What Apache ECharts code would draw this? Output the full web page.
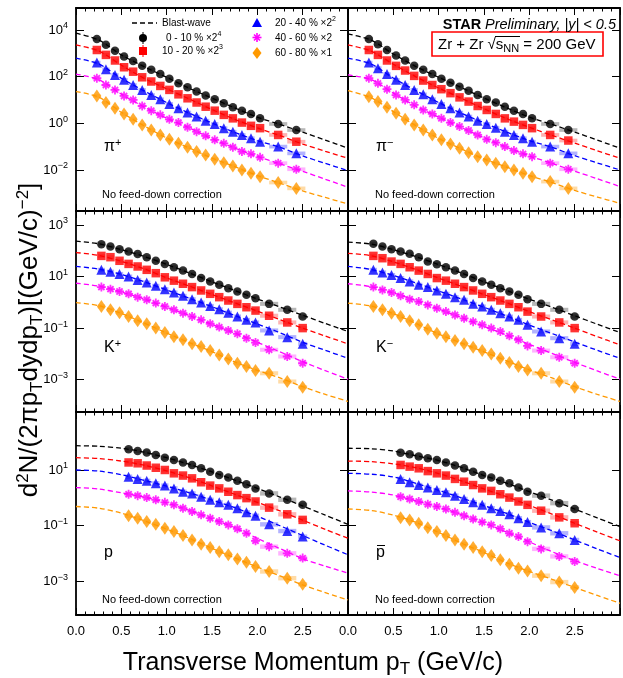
<!DOCTYPE html>
<html><head><meta charset="utf-8">
<script src="https://cdn.jsdelivr.net/npm/echarts@6/dist/echarts.min.js"></script>
<style>html,body{margin:0;padding:0;background:#fff}#c{width:623px;height:678px}</style>
</head><body><div id="c"></div>
<script>
// ---------- DATA (yields stored as log10 values) ----------
const ptPion   = [0.23,0.33,0.43,0.53,0.63,0.73,0.83,0.93,1.03,1.13,1.23,1.33,1.43,1.53,1.63,1.73,1.83,1.93,2.03,2.23,2.43];
const ptKaon   = [0.28,0.38,0.48,0.58,0.68,0.78,0.88,0.98,1.08,1.18,1.28,1.38,1.48,1.58,1.68,1.78,1.88,1.98,2.13,2.33,2.5];
const ptProton = [0.58,0.68,0.78,0.88,0.98,1.08,1.18,1.28,1.38,1.48,1.58,1.68,1.78,1.88,1.98,2.13,2.33,2.5];
const halfBinPion   = [0.04,0.04,0.04,0.04,0.04,0.04,0.04,0.04,0.04,0.04,0.04,0.04,0.04,0.04,0.04,0.04,0.04,0.04,0.04,0.1,0.1];
const halfBinKaon   = [0.04,0.04,0.04,0.04,0.04,0.04,0.04,0.04,0.04,0.04,0.04,0.04,0.04,0.04,0.04,0.04,0.04,0.04,0.1,0.1,0.05];
const halfBinProton = [0.04,0.04,0.04,0.04,0.04,0.04,0.04,0.04,0.04,0.04,0.04,0.04,0.04,0.04,0.04,0.1,0.1,0.05];
const curvePt = [0,0.25,0.5,0.75,1,1.25,1.5,1.75,2,2.25,2.5,2.75,3];

const centralities = ['0 - 10 %', '10 - 20 %', '20 - 40 %', '40 - 60 %', '60 - 80 %'];
const scaleExp = ['4','3','2','', ''];

// pi+
const pip_c0 = [3.61,3.36,3.11,2.86,2.67,2.46,2.29,2.11,1.91,1.71,1.54,1.36,1.19,1.03,0.86,0.69,0.54,0.40,0.21,-0.03,-0.29];
const pip_c1 = [3.14,2.93,2.69,2.40,2.21,1.97,1.79,1.60,1.43,1.24,1.07,0.89,0.71,0.54,0.36,0.21,0.03,-0.11,-0.21,-0.50,-0.79];
const pip_c2 = [2.60,2.31,2.07,1.86,1.64,1.43,1.21,1.03,0.83,0.64,0.46,0.29,0.11,-0.03,-0.21,-0.36,-0.50,-0.64,-0.79,-1.0,-1.29];
const pip_c3 = [1.93,1.64,1.43,1.17,1.00,0.74,0.54,0.36,0.17,0.03,-0.17,-0.36,-0.54,-0.71,-0.86,-1.03,-1.21,-1.31,-1.46,-1.71,-1.97];
const pip_c4 = [1.17,0.89,0.64,0.40,0.17,-0.07,-0.29,-0.50,-0.69,-0.86,-1.03,-1.21,-1.36,-1.54,-1.69,-1.83,-2.0,-2.14,-2.29,-2.54,-2.79];
// pi-
const pim_c0 = [3.61,3.39,3.14,2.90,2.69,2.46,2.29,2.11,1.91,1.74,1.57,1.39,1.21,1.03,0.89,0.71,0.54,0.40,0.21,-0.03,-0.29];
const pim_c1 = [3.14,2.93,2.69,2.46,2.26,2.03,1.83,1.64,1.46,1.29,1.11,0.93,0.74,0.57,0.40,0.21,0.07,-0.07,-0.21,-0.50,-0.74];
const pim_c2 = [2.60,2.36,2.11,1.86,1.64,1.43,1.24,1.03,0.83,0.64,0.46,0.29,0.11,-0.03,-0.19,-0.36,-0.50,-0.64,-0.79,-1.0,-1.29];
const pim_c3 = [1.93,1.71,1.46,1.21,1.0,0.79,0.57,0.40,0.21,0.03,-0.14,-0.31,-0.50,-0.69,-0.83,-1.0,-1.17,-1.31,-1.43,-1.71,-1.97];
const pim_c4 = [1.14,0.93,0.69,0.43,0.17,-0.07,-0.29,-0.50,-0.71,-0.89,-1.07,-1.26,-1.43,-1.57,-1.71,-1.86,-2.0,-2.14,-2.29,-2.50,-2.79];
// K+
const kp_c0 = [2.25,2.16,2.06,1.97,1.87,1.75,1.61,1.49,1.36,1.23,1.10,0.94,0.81,0.68,0.55,0.42,0.29,0.16,-0.06,-0.29,-0.55];
const kp_c1 = [1.80,1.75,1.61,1.49,1.39,1.26,1.13,0.97,0.84,0.72,0.59,0.46,0.33,0.20,0.07,-0.06,-0.19,-0.32,-0.52,-0.78,-1.0];
const kp_c2 = [1.26,1.19,1.10,1.0,0.87,0.77,0.64,0.51,0.38,0.25,0.12,-0.01,-0.14,-0.27,-0.40,-0.55,-0.68,-0.78,-1.09,-1.35,-1.61];
const kp_c3 = [0.59,0.51,0.42,0.33,0.20,0.10,-0.03,-0.16,-0.29,-0.42,-0.55,-0.68,-0.83,-0.96,-1.09,-1.22,-1.39,-1.56,-1.84,-2.10,-2.36];
const kp_c4 = [-0.16,-0.29,-0.40,-0.55,-0.71,-0.83,-1.0,-1.17,-1.33,-1.45,-1.61,-1.71,-1.87,-2.04,-2.20,-2.36,-2.49,-2.64,-2.75,-3.07,-3.29];
// K-
const km_c0 = [2.27,2.16,2.06,1.97,1.88,1.75,1.58,1.48,1.36,1.23,1.10,0.94,0.81,0.68,0.55,0.42,0.29,0.12,-0.06,-0.29,-0.55];
const km_c1 = [1.80,1.71,1.58,1.49,1.36,1.23,1.10,0.94,0.84,0.72,0.59,0.46,0.33,0.20,0.07,-0.06,-0.19,-0.36,-0.55,-0.78,-1.0];
const km_c2 = [1.26,1.16,1.06,0.94,0.81,0.68,0.59,0.46,0.33,0.20,0.10,-0.06,-0.16,-0.29,-0.42,-0.55,-0.68,-0.87,-1.13,-1.39,-1.61];
const km_c3 = [0.59,0.48,0.38,0.25,0.12,0.03,-0.10,-0.23,-0.36,-0.49,-0.62,-0.75,-0.87,-1.0,-1.13,-1.30,-1.45,-1.69,-1.87,-2.13,-2.36];
const km_c4 = [-0.16,-0.29,-0.42,-0.55,-0.71,-0.87,-1.04,-1.20,-1.33,-1.48,-1.61,-1.74,-1.87,-2.0,-2.17,-2.33,-2.49,-2.62,-2.75,-3.07,-3.29];
// p
const pp_c0 = [1.74,1.68,1.63,1.54,1.44,1.36,1.27,1.18,1.06,0.94,0.82,0.73,0.61,0.49,0.34,0.16,-0.07,-0.25];
const pp_c1 = [1.27,1.24,1.16,1.08,1.0,0.88,0.80,0.70,0.56,0.44,0.34,0.22,0.10,-0.01,-0.13,-0.35,-0.59,-0.79];
const pp_c2 = [0.76,0.68,0.61,0.52,0.44,0.34,0.22,0.16,0.04,-0.07,-0.16,-0.25,-0.37,-0.52,-0.64,-0.95,-1.19,-1.39];
const pp_c3 = [0.13,0.08,0.01,-0.07,-0.16,-0.25,-0.37,-0.49,-0.61,-0.73,-0.85,-0.97,-1.11,-1.27,-1.54,-1.75,-1.99,-2.16];
const pp_c4 = [-0.64,-0.73,-0.85,-0.95,-1.09,-1.21,-1.35,-1.51,-1.66,-1.78,-1.93,-2.04,-2.19,-2.31,-2.46,-2.64,-2.88,-3.10];
// pbar
const pb_c0 = [1.62,1.56,1.48,1.42,1.36,1.27,1.16,1.06,0.94,0.82,0.73,0.61,0.52,0.37,0.22,0.08,-0.19,-0.40];
const pb_c1 = [1.18,1.12,1.06,0.96,0.88,0.80,0.68,0.58,0.46,0.34,0.25,0.13,0.01,-0.13,-0.25,-0.46,-0.70,-0.91];
const pb_c2 = [0.68,0.56,0.46,0.37,0.28,0.20,0.08,-0.04,-0.16,-0.25,-0.37,-0.47,-0.59,-0.73,-0.87,-1.06,-1.27,-1.51];
const pb_c3 = [0.04,-0.04,-0.13,-0.23,-0.31,-0.40,-0.52,-0.64,-0.76,-0.87,-0.97,-1.11,-1.27,-1.39,-1.57,-1.83,-2.10,-2.28];
const pb_c4 = [-0.71,-0.79,-0.91,-1.07,-1.21,-1.35,-1.51,-1.66,-1.78,-1.93,-2.07,-2.22,-2.38,-2.52,-2.62,-2.79,-3.02,-3.21];

// Blast-wave curves at curvePt (log10)
const pipBW_c0 = [3.86,3.57,2.93,2.43,1.97,1.50,1.08,0.66,0.26,-0.05,-0.38,-0.72,-1.07];
const pipBW_c1 = [3.36,3.10,2.49,1.93,1.48,1.04,0.59,0.17,-0.20,-0.53,-0.89,-1.20,-1.5];
const pipBW_c2 = [2.79,2.54,1.93,1.39,0.89,0.43,0.01,-0.39,-0.74,-1.03,-1.40,-1.72,-2.03];
const pipBW_c3 = [2.11,1.87,1.25,0.70,0.22,-0.20,-0.66,-1.06,-1.42,-1.74,-2.06,-2.40,-2.74];
const pipBW_c4 = [1.36,1.12,0.47,-0.11,-0.63,-1.06,-1.49,-1.86,-2.24,-2.57,-2.90,-3.18,-3.46];
const pimBW_c0 = [3.83,3.57,2.97,2.43,1.97,1.53,1.08,0.66,0.26,-0.05,-0.38,-0.72,-1.07];
const pimBW_c1 = [3.36,3.10,2.53,1.99,1.51,1.07,0.62,0.20,-0.17,-0.52,-0.85,-1.18,-1.50];
const pimBW_c2 = [2.79,2.55,1.94,1.40,0.89,0.43,0.02,-0.38,-0.74,-1.03,-1.39,-1.70,-2.00];
const pimBW_c3 = [2.07,1.88,1.29,0.73,0.26,-0.18,-0.62,-1.03,-1.40,-1.72,-2.05,-2.38,-2.71];
const pimBW_c4 = [1.40,1.10,0.50,-0.11,-0.65,-1.10,-1.53,-1.88,-2.24,-2.54,-2.88,-3.16,-3.43];
const kpBW_c0 = [2.37,2.27,2.04,1.78,1.47,1.14,0.79,0.46,0.13,-0.18,-0.50,-0.82,-1.13];
const kpBW_c1 = [1.93,1.82,1.59,1.30,0.95,0.63,0.30,-0.02,-0.34,-0.67,-1.0,-1.31,-1.61];
const kpBW_c2 = [1.39,1.29,1.08,0.80,0.48,0.16,-0.17,-0.51,-0.84,-1.18,-1.55,-1.86,-2.17];
const kpBW_c3 = [0.74,0.63,0.40,0.13,-0.19,-0.51,-0.86,-1.19,-1.55,-1.92,-2.30,-2.65,-2.98];
const kpBW_c4 = [-0.01,-0.13,-0.43,-0.80,-1.19,-1.56,-1.91,-2.31,-2.64,-2.93,-3.27,-3.57,-3.84];
const kmBW_c0 = [2.33,2.26,2.04,1.77,1.46,1.14,0.79,0.46,0.12,-0.19,-0.52,-0.85,-1.17];
const kmBW_c1 = [1.90,1.81,1.57,1.27,0.94,0.62,0.30,-0.02,-0.36,-0.68,-1.0,-1.33,-1.65];
const kmBW_c2 = [1.39,1.28,1.04,0.75,0.44,0.13,-0.19,-0.53,-0.88,-1.21,-1.54,-1.86,-2.17];
const kmBW_c3 = [0.72,0.61,0.36,0.07,-0.26,-0.59,-0.93,-1.27,-1.63,-1.98,-2.33,-2.66,-2.98];
const kmBW_c4 = [-0.03,-0.14,-0.44,-0.82,-1.23,-1.58,-1.92,-2.27,-2.62,-2.93,-3.27,-3.57,-3.84];
const ppBW_c0 = [1.87,1.85,1.78,1.64,1.44,1.20,0.93,0.64,0.34,0.03,-0.29,-0.62,-0.95];
const ppBW_c1 = [1.44,1.41,1.32,1.17,0.97,0.72,0.43,0.13,-0.16,-0.47,-0.80,-1.13,-1.45];
const ppBW_c2 = [1.0,0.96,0.83,0.63,0.42,0.18,-0.08,-0.35,-0.66,-1.0,-1.35,-1.70,-2.04];
const ppBW_c3 = [0.37,0.32,0.18,0.03,-0.18,-0.45,-0.75,-1.07,-1.45,-1.82,-2.18,-2.45,-2.70];
const ppBW_c4 = [-0.31,-0.37,-0.55,-0.82,-1.12,-1.45,-1.81,-2.15,-2.48,-2.80,-3.12,-3.40,-3.66];
const pbBW_c0 = [1.78,1.76,1.68,1.51,1.34,1.09,0.80,0.53,0.22,-0.08,-0.40,-0.72,-1.03];
const pbBW_c1 = [1.32,1.30,1.22,1.08,0.87,0.61,0.32,0.04,-0.27,-0.58,-0.91,-1.23,-1.54];
const pbBW_c2 = [0.88,0.85,0.75,0.52,0.27,0.0,-0.28,-0.56,-0.88,-1.18,-1.51,-1.83,-2.14];
const pbBW_c3 = [0.25,0.21,0.10,-0.11,-0.33,-0.60,-0.89,-1.23,-1.58,-1.93,-2.25,-2.53,-2.79];
const pbBW_c4 = [-0.40,-0.45,-0.62,-0.88,-1.24,-1.62,-1.96,-2.33,-2.64,-2.92,-3.21,-3.50,-3.78];

// y-axis ranges and labelled decades per row
const yRangeRow = [[1.74e-4, 8.7e4], [5.6e-5, 3.47e3], [6.3e-5, 1.2e3]];
const yLabelRow = [[1e4, 1e2, 1, 1e-2], [1e3, 10, 0.1, 1e-3], [10, 0.1, 1e-3]];
const xTickLabels = [0, 0.5, 1, 1.5, 2, 2.5];

// ---------- LAYOUT / STYLE ----------
const FONT = '"Liberation Sans", Arial, Helvetica, sans-serif';
const colors = ['#000000', '#ff0000', '#0000ff', '#ff00ff', '#ff9900'];
const boxColors = ['rgba(0,0,0,0.28)', 'rgba(255,0,0,0.3)', 'rgba(0,0,255,0.3)', 'rgba(255,0,255,0.3)', 'rgba(255,153,0,0.35)'];
const starPath = 'path://M5,0L5,10M0,5L10,5M1.6,1.6L8.4,8.4M8.4,1.6L1.6,8.4';
const symbols = ['circle', 'rect', 'triangle', starPath, 'diamond'];
const symbolSizes = [8.5, 8.5, 10, 9, [9, 13]];
const colLeft = [76, 348];
const rowTop = [8, 211, 412];
const rowH = [203, 201, 203];
const panelW = 272;

const panels = [
  {row: 0, col: 0, pt: ptPion, half: halfBinPion, pts: [pip_c0, pip_c1, pip_c2, pip_c3, pip_c4], bw: [pipBW_c0, pipBW_c1, pipBW_c2, pipBW_c3, pipBW_c4]},
  {row: 0, col: 1, pt: ptPion, half: halfBinPion, pts: [pim_c0, pim_c1, pim_c2, pim_c3, pim_c4], bw: [pimBW_c0, pimBW_c1, pimBW_c2, pimBW_c3, pimBW_c4]},
  {row: 1, col: 0, pt: ptKaon, half: halfBinKaon, pts: [kp_c0, kp_c1, kp_c2, kp_c3, kp_c4], bw: [kpBW_c0, kpBW_c1, kpBW_c2, kpBW_c3, kpBW_c4]},
  {row: 1, col: 1, pt: ptKaon, half: halfBinKaon, pts: [km_c0, km_c1, km_c2, km_c3, km_c4], bw: [kmBW_c0, kmBW_c1, kmBW_c2, kmBW_c3, kmBW_c4]},
  {row: 2, col: 0, pt: ptProton, half: halfBinProton, pts: [pp_c0, pp_c1, pp_c2, pp_c3, pp_c4], bw: [ppBW_c0, ppBW_c1, ppBW_c2, ppBW_c3, ppBW_c4]},
  {row: 2, col: 1, pt: ptProton, half: halfBinProton, pts: [pb_c0, pb_c1, pb_c2, pb_c3, pb_c4], bw: [pbBW_c0, pbBW_c1, pbBW_c2, pbBW_c3, pbBW_c4]}
];

const supRich = {
  b: {fontSize: 13, fontFamily: FONT, color: '#000', lineHeight: 17},
  s: {fontSize: 9, fontFamily: FONT, color: '#000', lineHeight: 9, verticalAlign: 'top'}
};
function powLabel(v) {
  const e = Math.round(Math.log10(v));
  return '{b|10}{s|' + (e < 0 ? '\u2212' + (-e) : e) + '}';
}

const grid = [], xAxis = [], yAxis = [], series = [];
panels.forEach((p, g) => {
  grid.push({left: colLeft[p.col], top: rowTop[p.row], width: panelW, height: rowH[p.row], show: false, outerBoundsMode: 'none', containLabel: false});
  const axLine = {show: true, onZero: false, lineStyle: {color: '#000', width: 1.8}};
  const xBase = {type: 'value', gridIndex: g, min: 0, max: 3, interval: 0.5, splitLine: {show: false},
    axisLine: axLine, axisTick: {show: true, inside: true, length: 7, lineStyle: {color: '#000', width: 1}},
    minorTick: {show: true, splitNumber: 5, length: 3.5, lineStyle: {color: '#000', width: 1}}, minorSplitLine: {show: false}};
  xAxis.push(Object.assign({}, xBase, {position: 'bottom',
    axisLabel: {show: p.row === 2, margin: 10, fontSize: 13, fontFamily: FONT, color: '#000',
      customValues: xTickLabels, formatter: v => v.toFixed(1)}}));
  xAxis.push(Object.assign({}, xBase, {position: 'top', axisLabel: {show: false}}));
  const yr = yRangeRow[p.row], yl = yLabelRow[p.row];
  const yBase = {type: 'log', logBase: 10, gridIndex: g, min: yr[0], max: yr[1], splitLine: {show: false},
    axisLine: axLine, axisTick: {show: true, inside: true, length: 8, customValues: yl, lineStyle: {color: '#000', width: 1}},
    minorTick: {show: false}};
  yAxis.push(Object.assign({}, yBase, {position: 'left',
    axisLabel: {show: p.col === 0, margin: 8, customValues: yl, formatter: powLabel, rich: supRich, color: '#000'}}));
  yAxis.push(Object.assign({}, yBase, {position: 'right', axisLabel: {show: false}}));

  for (let c = 0; c < 5; c++) {
    series.push({
      type: 'line', name: 'Blast-wave', xAxisIndex: 2 * g, yAxisIndex: 2 * g, z: 2, silent: true,
      data: curvePt.map((x, k) => [x, Math.pow(10, p.bw[c][k])]),
      smooth: 0.3, showSymbol: false, symbol: 'none', clip: true,
      lineStyle: {color: colors[c], width: 1.3, type: [5, 3]}
    });
    series.push({
      type: 'custom', xAxisIndex: 2 * g, yAxisIndex: 2 * g, z: 3, silent: true, clip: true,
      data: p.pt.map((x, k) => [x, Math.pow(10, p.pts[c][k]), p.half[k]]),
      encode: {x: 0, y: 1},
      renderItem: (params, api) => {
        const x = api.value(0), y = api.value(1), h = api.value(2);
        const a = api.coord([x - h, y * 1.2]);
        const b = api.coord([x + h, y / 1.2]);
        return {type: 'rect', shape: {x: a[0], y: a[1], width: b[0] - a[0], height: b[1] - a[1]}, style: {fill: boxColors[c]}};
      }
    });
    const isStar = c === 3;
    series.push({
      type: 'scatter', name: centralities[c], xAxisIndex: 2 * g, yAxisIndex: 2 * g, z: 4, silent: true,
      data: p.pt.map((x, k) => [x, Math.pow(10, p.pts[c][k])]),
      symbol: symbols[c], symbolSize: symbolSizes[c],
      itemStyle: isStar ? {color: 'rgba(0,0,0,0)', borderColor: colors[c], borderWidth: 1.8} : {color: colors[c]}
    });
  }
});

// ---------- GRAPHIC TEXT / LEGEND ----------
const txt = (x, y, text, size, extra) => Object.assign({type: 'text', z: 100, style: Object.assign({x: x, y: y, text: text, fill: '#000', font: size + 'px ' + FONT, verticalAlign: 'middle'}, extra || {})});
const rich2 = (fs, ss, va) => ({t: {fontSize: fs, fontFamily: FONT, fill: '#000', lineHeight: fs + 4}, s: {fontSize: ss, fontFamily: FONT, fill: '#000', lineHeight: ss, verticalAlign: va}});

const graphic = [];
// particle labels
const partLabels = [
  [104, 147, '{t|\u03c0}{s|+}'], [376, 147, '{t|\u03c0}{s|\u2212}'],
  [104, 348, '{t|K}{s|+}'], [376, 348, '{t|K}{s|\u2212}'],
  [104, 553, '{t|p}'], [376, 553, '{t|p}']
];
partLabels.forEach(l => graphic.push(txt(l[0], l[1], l[2], 16, {rich: rich2(16, 11, 'top')})));
graphic.push({type: 'line', z: 100, shape: {x1: 377, y1: 545.5, x2: 385, y2: 545.5}, style: {stroke: '#000', lineWidth: 1}});
[[102, 195], [375, 195], [102, 600], [375, 600]].forEach(q => graphic.push(txt(q[0], q[1], 'No feed-down correction', 11)));

// legend
graphic.push({type: 'line', z: 100, shape: {x1: 132, y1: 23, x2: 157, y2: 23}, style: {stroke: '#000', lineWidth: 1.3, lineDash: [5, 3]}});
graphic.push(txt(162, 23, 'Blast-wave', 10));
graphic.push({type: 'circle', z: 100, shape: {cx: 143, cy: 38, r: 4}, style: {fill: '#000'}});
graphic.push({type: 'line', z: 100, shape: {x1: 143, y1: 32, x2: 143, y2: 44}, style: {stroke: '#000', lineWidth: 1}});
graphic.push(txt(166, 38, '{t|0 - 10 % \u00d72}{s|' + scaleExp[0] + '}', 10, {rich: rich2(10, 7, 'top')}));
graphic.push({type: 'rect', z: 100, shape: {x: 139, y: 47, width: 8, height: 8}, style: {fill: '#ff0000'}});
graphic.push({type: 'line', z: 100, shape: {x1: 143, y1: 45, x2: 143, y2: 57}, style: {stroke: '#ff0000', lineWidth: 1}});
graphic.push(txt(162, 51, '{t|10 - 20 % \u00d72}{s|' + scaleExp[1] + '}', 10, {rich: rich2(10, 7, 'top')}));
graphic.push({type: 'polygon', z: 100, shape: {points: [[257, 18], [262, 27], [252, 27]]}, style: {fill: '#0000ff'}});
graphic.push(txt(275, 23, '{t|20 - 40 % \u00d72}{s|' + scaleExp[2] + '}', 10, {rich: rich2(10, 7, 'top')}));
[[257, 33, 257, 42], [252.5, 37.5, 261.5, 37.5], [254, 34.5, 260, 40.5], [260, 34.5, 254, 40.5]].forEach(s =>
  graphic.push({type: 'line', z: 100, shape: {x1: s[0], y1: s[1], x2: s[2], y2: s[3]}, style: {stroke: '#ff00ff', lineWidth: 1.6}}));
graphic.push(txt(275, 38, '40 - 60 % \u00d72', 10));
graphic.push({type: 'polygon', z: 100, shape: {points: [[257, 47], [261.5, 53], [257, 59], [252.5, 53]]}, style: {fill: '#ff9900'}});
graphic.push(txt(275, 53, '60 - 80 % \u00d71', 10));

// STAR label and system box
graphic.push(txt(616, 25, '{b|STAR} {i|Preliminary, |y| < 0.5}', 14, {align: 'right',
  rich: {b: {fontSize: 14.5, fontWeight: 'bold', fontFamily: FONT, fill: '#000'}, i: {fontSize: 14.5, fontStyle: 'italic', fontFamily: FONT, fill: '#000'}}}));
graphic.push({type: 'rect', z: 99, shape: {x: 432, y: 32, width: 171, height: 24}, style: {fill: '#fff', stroke: '#ff0000', lineWidth: 1.6}});
graphic.push(txt(438, 44.5, '{t|Zr + Zr }{t|\u221a}{t|s}{u|NN}{t| = 200 GeV}', 15, {
  rich: {t: {fontSize: 15, fontFamily: FONT, fill: '#000', lineHeight: 19}, u: {fontSize: 11, fontFamily: FONT, fill: '#000', lineHeight: 11, verticalAlign: 'bottom'}}}));
graphic.push({type: 'line', z: 101, shape: {x1: 495, y1: 36.5, x2: 520, y2: 36.5}, style: {stroke: '#000', lineWidth: 1}});

// axis titles
graphic.push(txt(313, 663, '{t|Transverse Momentum p}{u|T}{t| (GeV/c)}', 25, {align: 'center',
  rich: {t: {fontSize: 25, fontFamily: FONT, fill: '#000', lineHeight: 30}, u: {fontSize: 17, fontFamily: FONT, fill: '#000', lineHeight: 17, verticalAlign: 'bottom'}}}));
graphic.push({type: 'text', z: 100, x: 30, y: 340, rotation: Math.PI / 2, style: {x: 0, y: 0, align: 'center', verticalAlign: 'middle',
  text: '{t|d}{s|2}{t|N/(2\u03c0p}{u|T}{t|dydp}{u|T}{t|)[(GeV/c)}{s|\u22122}{t|]}',
  rich: {t: {fontSize: 26, fontFamily: FONT, fill: '#000', lineHeight: 31}, s: {fontSize: 17, fontFamily: FONT, fill: '#000', lineHeight: 15, verticalAlign: 'top'},
    u: {fontSize: 17, fontFamily: FONT, fill: '#000', lineHeight: 17, verticalAlign: 'bottom'}}}});

const chart = echarts.init(document.getElementById('c'), null, {renderer: 'canvas'});
chart.setOption({animation: false, backgroundColor: '#fff', grid, xAxis, yAxis, series, graphic});
</script></body></html>
